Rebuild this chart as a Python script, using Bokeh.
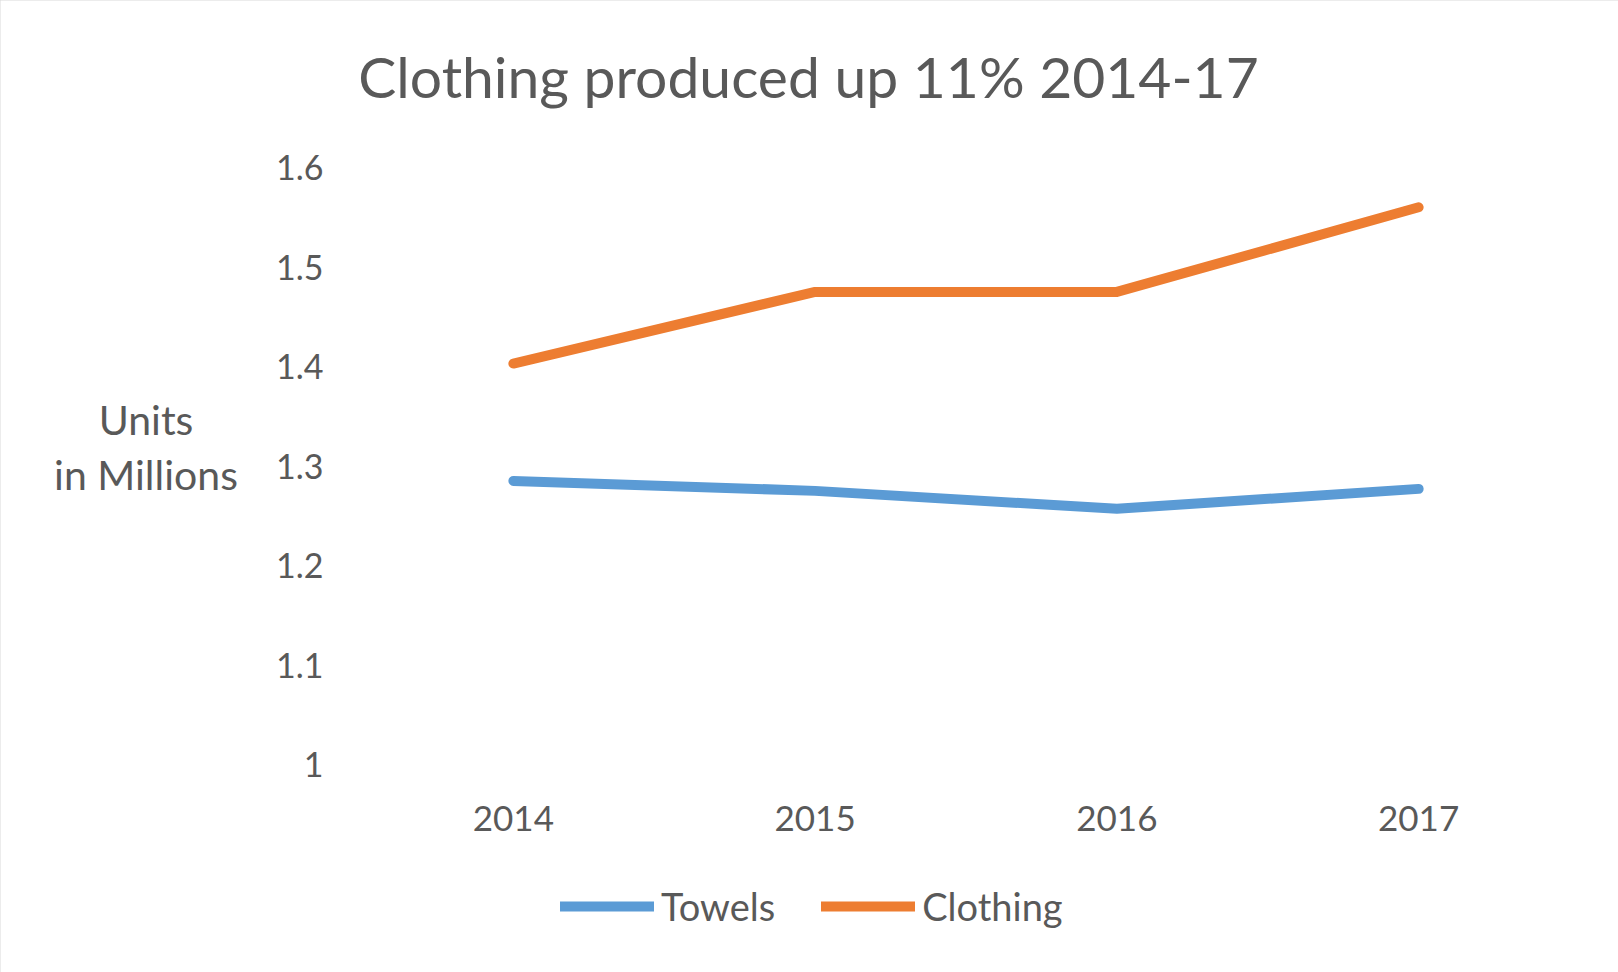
from bokeh.plotting import figure
from bokeh.models import Range1d, FixedTicker, Legend, Label
from bokeh.embed import file_html
from bokeh.resources import INLINE

# ---- data ----
years = [2014, 2015, 2016, 2017]
year_labels = ["2014", "2015", "2016", "2017"]
towels = [1.285, 1.275, 1.257, 1.277]
clothing = [1.403, 1.475, 1.475, 1.560]
y_ticks = [1.0, 1.1, 1.2, 1.3, 1.4, 1.5, 1.6]
y_tick_labels = ["1", "1.1", "1.2", "1.3", "1.4", "1.5", "1.6"]
title_text = "Clothing produced up 11% 2014-17"
y_label_lines = ["Units", "in Millions"]

FONT = "Lato"
GRAY = "#595959"
BLUE = "#5B9BD5"
ORANGE = "#ED7D31"

# ---- layout (pixels) ----
W, H = 1618, 972
PLOT_L, PLOT_R = 362, 1569   # Excel plot area, x
PLOT_T, PLOT_B = 167, 764    # y of 1.6 and of 1.0
px_per_year = (PLOT_R - PLOT_L) / 4.0
px_per_unit = (PLOT_B - PLOT_T) / 0.6
x_first = PLOT_L + px_per_year / 2.0
x_start = years[0] - x_first / px_per_year
x_end = years[0] + (W - x_first) / px_per_year
y_end = 1.6 + PLOT_T / px_per_unit
y_start = 1.0 - (H - PLOT_B) / px_per_unit
y_axis_at = years[0] - 0.5

p = figure(
    width=W, height=H, title=None,
    x_range=Range1d(x_start, x_end),
    y_range=Range1d(y_start, y_end),
    output_backend="svg", toolbar_location=None,
    min_border_left=0, min_border_right=0,
    min_border_top=0, min_border_bottom=0,
)
p.outline_line_color = None
p.xgrid.grid_line_color = None
p.ygrid.grid_line_color = None
p.background_fill_color = "white"
p.border_fill_color = "white"
p.styles = {"outline": "3px solid #D9D9D9", "outline-offset": "-3px"}

# title
p.add_layout(Label(x=808, y=H - 75, x_units="screen", y_units="screen",
                   text=title_text, text_font=FONT, text_font_size="57px",
                   text_color=GRAY, text_align="center", text_baseline="middle"))

# axes (drawn at fixed data positions inside the frame)
for ax in (p.xaxis[0], p.yaxis[0]):
    ax.axis_line_color = None
    ax.major_tick_line_color = None
    ax.minor_tick_line_color = None
    ax.major_label_text_font = FONT
    ax.major_label_text_color = GRAY

p.xaxis.fixed_location = 1.0
p.xaxis.ticker = FixedTicker(ticks=years)
p.xaxis.major_label_overrides = {y: s for y, s in zip(years, year_labels)}
p.xaxis.major_label_text_font_size = "35px"
p.xaxis.major_label_standoff = 35

p.yaxis.fixed_location = y_axis_at
p.yaxis.ticker = FixedTicker(ticks=y_ticks)
p.yaxis.major_label_overrides = {t: s for t, s in zip(y_ticks, y_tick_labels)}
p.yaxis.major_label_text_font_size = "34px"
p.yaxis.major_label_standoff = 33

# lines
r_t = p.line(years, towels, line_width=10, line_color=BLUE,
             line_cap="round", line_join="round")
r_c = p.line(years, clothing, line_width=10, line_color=ORANGE,
             line_cap="round", line_join="round")

# y axis title, horizontal, two lines
for txt, yy in zip(y_label_lines, [H - 419, H - 474]):
    p.add_layout(Label(x=145.5, y=yy, x_units="screen", y_units="screen",
                       text=txt, text_font=FONT, text_font_size="41px",
                       text_color=GRAY, text_align="center",
                       text_baseline="middle"))

legend = Legend(
    items=[("Towels", [r_t]), ("Clothing", [r_c])],
    orientation="horizontal",
    location=(560, H - 929),
    glyph_width=94, glyph_height=46, label_height=46,
    label_standoff=7, spacing=46, padding=0, margin=0,
    label_text_font=FONT, label_text_font_size="38px",
    label_text_color=GRAY, label_text_baseline="middle",
    border_line_color=None, background_fill_alpha=0,
)
p.add_layout(legend, "center")

open("out.html", "w").write(file_html(p, INLINE))
